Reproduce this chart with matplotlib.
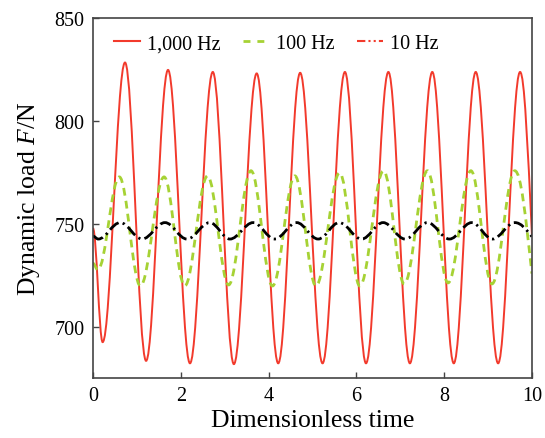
import matplotlib
matplotlib.use("Agg")
import matplotlib.pyplot as plt
from matplotlib.path import Path
from matplotlib.patches import PathPatch
from matplotlib.lines import Line2D

plt.rcParams['font.family'] = ['Liberation Serif', 'DejaVu Serif']
plt.rcParams['mathtext.fontset'] = 'custom'
plt.rcParams['mathtext.rm'] = 'Liberation Serif'
plt.rcParams['mathtext.it'] = 'Liberation Serif:italic'

labels = ['1,000 Hz', '100 Hz', '10 Hz']

# values: start, turning points (peaks / troughs), end
red_start = (0.0, 748.0)
red_trough_t = [0.22, 1.21, 2.21, 3.21, 4.22, 5.23, 6.22, 7.22, 8.22, 9.23]
red_trough_y = [692.7, 683.6, 682.4, 682.0, 682.4, 682.4, 682.4, 682.4, 682.4, 682.4]
red_peak_t = [0.73, 1.71, 2.73, 3.73, 4.72, 5.74, 6.73, 7.73, 8.72, 9.73]
red_peak_y = [828.6, 825.0, 824.0, 823.3, 823.6, 824.0, 824.0, 824.0, 824.0, 824.0]
red_end = (10.0, 745.0)

green_start = (0.0, 731.0)
green_trough_t = [0.11, 1.08, 2.09, 3.09, 4.09, 5.08, 6.08, 7.09, 8.09, 9.09]
green_trough_y = [727.8, 720.0, 720.0, 720.5, 720.0, 720.0, 720.0, 721.0, 721.5, 721.0]
green_peak_t = [0.60, 1.62, 2.61, 3.60, 4.60, 5.62, 6.62, 7.62, 8.61, 9.61]
green_peak_y = [773.0, 773.0, 773.5, 776.0, 773.5, 775.0, 776.0, 776.0, 776.0, 776.0]
green_end = (10.0, 726.0)

black_start = (0.0, 744.2)
black_trough_t = [0.12, 1.12, 2.14, 3.12, 4.14, 5.13, 6.12, 7.11, 8.12, 9.10]
black_trough_y = [742.8, 742.8, 742.8, 742.8, 742.8, 742.8, 742.8, 742.8, 742.8, 742.8]
black_peak_t = [0.62, 1.64, 2.66, 3.65, 4.64, 5.61, 6.61, 7.62, 8.63, 9.61]
black_peak_y = [750.8, 750.8, 750.8, 750.8, 750.8, 750.8, 750.8, 750.8, 750.8, 750.8]
black_end = (10.0, 744.0)


def wave_path(start, tr_t, tr_y, pk_t, pk_y, end):
    pts = sorted(list(zip(tr_t, tr_y)) + list(zip(pk_t, pk_y)))
    pts = [start] + pts + [end]
    n = len(pts)
    # zero slope at turning points and at the start, sloped at the end
    slopes = [0.0] * n
    slopes[-1] = 1.5 * (pts[-1][1] - pts[-2][1]) / (pts[-1][0] - pts[-2][0])
    verts = [pts[0]]
    codes = [Path.MOVETO]
    c = 0.3634
    for i in range(n - 1):
        t0, y0 = pts[i]
        t1, y1 = pts[i + 1]
        d = t1 - t0
        verts.append((t0 + c * d, y0 + slopes[i] * c * d))
        verts.append((t1 - c * d, y1 - slopes[i + 1] * c * d))
        verts.append((t1, y1))
        codes += [Path.CURVE4] * 3
    return Path(verts, codes)


red = '#f23a2c'
green = '#a6d234'

fig = plt.figure(figsize=(5.45, 4.39), dpi=100)
ax = fig.add_axes([0.1706, 0.1378, 0.8054, 0.8178])

ax.add_patch(PathPatch(wave_path(red_start, red_trough_t, red_trough_y,
                                 red_peak_t, red_peak_y, red_end),
                       fill=False, edgecolor=red, lw=1.4))
ax.add_patch(PathPatch(wave_path(green_start, green_trough_t, green_trough_y,
                                 green_peak_t, green_peak_y, green_end),
                       fill=False, edgecolor=green, lw=2.0,
                       linestyle=(0, (2.8, 1.9))))
ax.add_patch(PathPatch(wave_path(black_start, black_trough_t, black_trough_y,
                                 black_peak_t, black_peak_y, black_end),
                       fill=False, edgecolor='black', lw=2.0,
                       linestyle=(0, (4.0, 1.5, 0.8, 1.5))))

ax.set_xlim(0, 10)
ax.set_ylim(675.5, 850)
ax.set_xticks([0, 2, 4, 6, 8, 10])
ax.set_yticks([700, 750, 800, 850])

for s in ax.spines.values():
    s.set_color('#444444')
    s.set_linewidth(1.2)
ax.tick_params(direction='in', length=4.5, width=1.0, color='#444444',
               labelsize=14.5, top=False, right=False)
ax.tick_params(axis='x', pad=6)
ax.tick_params(axis='y', pad=6)

ax.set_xlabel('Dimensionless time', fontsize=18.5, labelpad=3)
ax.set_ylabel('Dynamic load $F$/N', fontsize=18.5, labelpad=9)

handles = [Line2D([], [], color=red, lw=1.5),
           Line2D([], [], color=green, lw=2.0, linestyle=(0, (2.5, 2.5))),
           Line2D([], [], color=red, lw=1.5, linestyle=(0, (4.0, 1.5, 1.0, 1.5, 1.0, 1.5)))]
ax.legend(handles, labels, loc='center', bbox_to_anchor=(0.417, 0.93),
          ncol=3, frameon=False, fontsize=14.5, handlelength=1.3,
          handletextpad=0.35, columnspacing=1.1, borderaxespad=0)

fig.savefig('out.png', dpi=100)
